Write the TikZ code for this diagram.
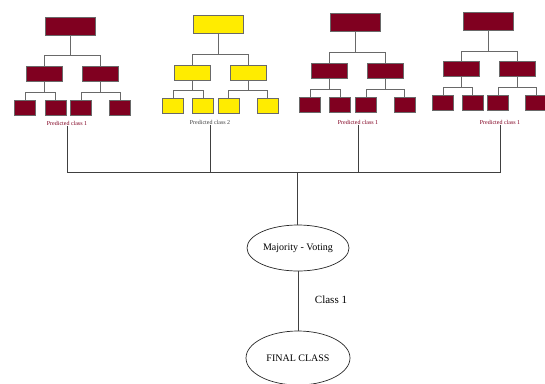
\documentclass[tikz,border=0pt]{standalone}
\usepackage{fontspec}
\setmainfont{Liberation Serif}
\usetikzlibrary{shapes.geometric}
\definecolor{treered}{RGB}{128,0,32}
\definecolor{treeyellow}{RGB}{255,236,0}
\definecolor{linegray}{RGB}{105,105,105}

\begin{document}
\begin{tikzpicture}[x=1pt,y=-1pt,
  box/.style={draw=linegray,line width=0.9pt,inner sep=0pt},
  rootbox/.style={box,minimum width=50pt,minimum height=18pt},
  midbox/.style={box,minimum width=36pt,minimum height=15pt},
  leafbox/.style={box,minimum width=21pt,minimum height=15pt},
  branch/.style={draw=linegray,line width=0.9pt,
    to path={(\tikztostart) |- ([yshift=#1]\tikztotarget) -- (\tikztotarget)}},
  predlabel/.style={font=\fontsize{6}{7}\selectfont,inner sep=1pt},
  trunk/.style={draw=black!75,line width=0.8pt},
  oval/.style={ellipse,draw=black!85,line width=0.7pt,inner sep=0pt,font=\fontsize{10}{12}\selectfont}]
\useasboundingbox (0,0) rectangle (545,383);

% tree 1
\node[rootbox,fill=treered] (r1) at (70,26) {};
\node[midbox,fill=treered] (m1a) at (44,73.5) {};
\node[midbox,fill=treered] (m1b) at (100,73.5) {};
\node[leafbox,fill=treered] (l1a) at (25,107.5) {};
\node[leafbox,fill=treered] (l1b) at (55.5,107.5) {};
\node[leafbox,fill=treered] (l1c) at (81,107.5) {};
\node[leafbox,fill=treered] (l1d) at (120,107.5) {};
\node[predlabel,text=treered] (p1) at (67,123) {Predicted class 1};
\path (r1.south) edge[branch=10pt] (m1a.north);
\path (r1.south) edge[branch=10pt] (m1b.north);
\path (m1a.south) edge[branch=7pt] (l1a.north);
\path (m1a.south) edge[branch=7pt] (l1b.north);
\path (m1b.south) edge[branch=7pt] (l1c.north);
\path (m1b.south) edge[branch=7pt] (l1d.north);

% tree 2
\node[rootbox,fill=treeyellow] (r2) at (218,24) {};
\node[midbox,fill=treeyellow] (m2a) at (192,72.5) {};
\node[midbox,fill=treeyellow] (m2b) at (248,72.5) {};
\node[leafbox,fill=treeyellow] (l2a) at (173,105.5) {};
\node[leafbox,fill=treeyellow] (l2b) at (203,105.5) {};
\node[leafbox,fill=treeyellow] (l2c) at (228.5,105.5) {};
\node[leafbox,fill=treeyellow] (l2d) at (267.5,105.5) {};
\node[predlabel,text=black!75] (p2) at (210,122) {Predicted class 2};
\path (r2.south) edge[branch=10pt] (m2a.north);
\path (r2.south) edge[branch=10pt] (m2b.north);
\path (m2a.south) edge[branch=7pt] (l2a.north);
\path (m2a.south) edge[branch=7pt] (l2b.north);
\path (m2b.south) edge[branch=7pt] (l2c.north);
\path (m2b.south) edge[branch=7pt] (l2d.north);

% tree 3
\node[rootbox,fill=treered] (r3) at (355,22.5) {};
\node[midbox,fill=treered] (m3a) at (329,70.5) {};
\node[midbox,fill=treered] (m3b) at (385,70.5) {};
\node[leafbox,fill=treered] (l3a) at (310,104.5) {};
\node[leafbox,fill=treered] (l3b) at (340,104.5) {};
\node[leafbox,fill=treered] (l3c) at (366,104.5) {};
\node[leafbox,fill=treered] (l3d) at (404.5,104.5) {};
\node[predlabel,text=treered] (p3) at (358,122) {Predicted class 1};
\path (r3.south) edge[branch=10pt] (m3a.north);
\path (r3.south) edge[branch=10pt] (m3b.north);
\path (m3a.south) edge[branch=7pt] (l3a.north);
\path (m3a.south) edge[branch=7pt] (l3b.north);
\path (m3b.south) edge[branch=7pt] (l3c.north);
\path (m3b.south) edge[branch=7pt] (l3d.north);

% tree 4
\node[rootbox,fill=treered] (r4) at (488,21.5) {};
\node[midbox,fill=treered] (m4a) at (461.5,69) {};
\node[midbox,fill=treered] (m4b) at (517.5,69) {};
\node[leafbox,fill=treered] (l4a) at (443,102.5) {};
\node[leafbox,fill=treered] (l4b) at (472.5,102.5) {};
\node[leafbox,fill=treered] (l4c) at (498,102.5) {};
\node[leafbox,fill=treered] (l4d) at (536,102.5) {};
\node[predlabel,text=treered] (p4) at (500,122) {Predicted class 1};
\path (r4.south) edge[branch=10pt] (m4a.north);
\path (r4.south) edge[branch=10pt] (m4b.north);
\path (m4a.south) edge[branch=7pt] (l4a.north);
\path (m4a.south) edge[branch=7pt] (l4b.north);
\path (m4b.south) edge[branch=7pt] (l4c.north);
\path (m4b.south) edge[branch=7pt] (l4d.north);

% voting
\coordinate (hub) at (297,172);
\node[oval,minimum width=102pt,minimum height=46pt] (vote) at (298,248) {Majority - Voting};
\node[oval,minimum width=104pt,minimum height=54pt] (final) at (298,358) {FINAL CLASS};
\draw[trunk] (p1.south) |- (hub);
\draw[trunk] (p2.south) |- (hub);
\draw[trunk] (p3.south) |- (hub);
\draw[trunk] (p4.south) |- (hub);
\draw[trunk] (hub) -- (hub |- vote.north);
\draw[trunk] (vote.south) -- (final.north);
\node[font=\fontsize{11}{13}\selectfont] (cls) at (331,300) {Class 1};
\end{tikzpicture}
\end{document}
